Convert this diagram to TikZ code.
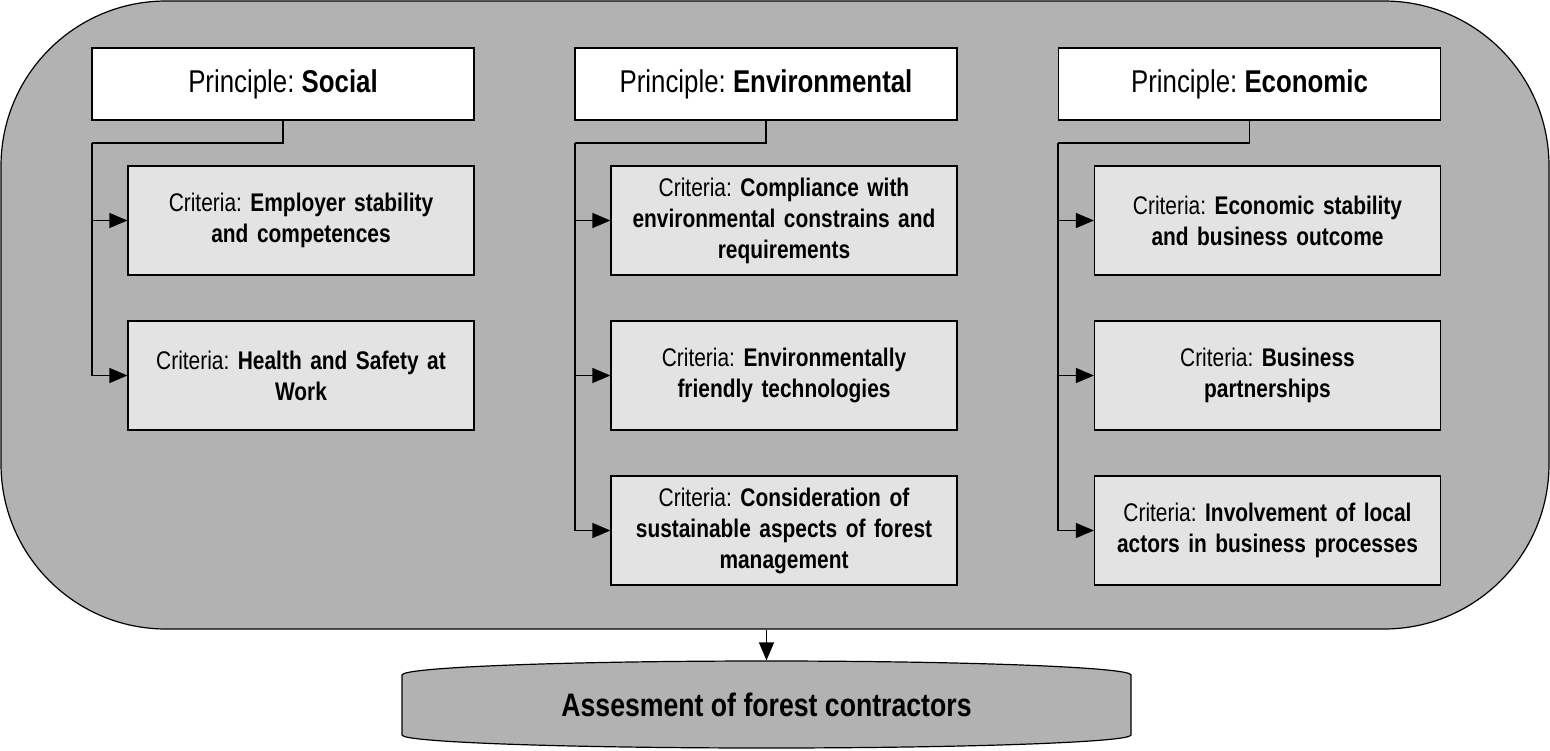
\documentclass[tikz,border=0pt]{standalone}
\usepackage{fontspec}
\setmainfont{Liberation Sans}[FakeStretch=0.82]
\usetikzlibrary{arrows.meta}
\definecolor{framegray}{RGB}{178,178,178}
\definecolor{critgray}{RGB}{227,227,227}
\begin{document}
\begin{tikzpicture}[x=1pt, y=-1pt, line width=1.2pt,
  prinbox/.style={draw, fill=white, minimum width=382pt, minimum height=72pt, inner sep=0pt, font=\fontsize{31.5}{36}\selectfont\frenchspacing},
  critbox/.style={draw, fill=critgray, minimum width=346pt, minimum height=109pt, inner sep=0pt, align=center, text width=330pt, font=\fontsize{25.5}{31}\selectfont\frenchspacing},
  link/.style={-{Triangle[length=18pt, width=15pt]}}]
\useasboundingbox (0,0) rectangle (1550,750);
\node[draw, fill=framegray, rounded corners=165pt, minimum width=1548pt, minimum height=628pt] (frame) at (775,315){};
% principles
\node[prinbox] (prin1) at (283,84){Principle: \textbf{Social}};
\node[prinbox] (prin2) at (766,84){Principle: \textbf{Environmental}};
\node[prinbox] (prin3) at (1249.5,84){Principle: \textbf{Economic}};
% criteria
\node[critbox] (crit11) at (301,220.5){Criteria: \textbf{Employer stability}\\\textbf{and competences}};
\node[critbox] (crit12) at (301,375.5){Criteria: \textbf{Health and Safety at}\\\textbf{Work}};
\node[critbox] (crit21) at (784,220.5){Criteria: \textbf{Compliance with}\\\textbf{environmental constrains and}\\\textbf{requirements}};
\node[critbox] (crit22) at (784,375.5){Criteria: \textbf{Environmentally}\\\textbf{friendly technologies}};
\node[critbox] (crit23) at (784,530.5){Criteria: \textbf{Consideration of}\\\textbf{sustainable aspects of forest}\\\textbf{management}};
\node[critbox] (crit31) at (1267.5,220.5){Criteria: \textbf{Economic stability}\\\textbf{and business outcome}};
\node[critbox] (crit32) at (1267.5,375.5){Criteria: \textbf{Business}\\\textbf{partnerships}};
\node[critbox] (crit33) at (1267.5,530.5){Criteria: \textbf{Involvement of local}\\\textbf{actors in business processes}};
\coordinate (bend1) at (92,143);
\coordinate (bend2) at (575,143);
\coordinate (bend3) at (1058,143);
\draw[](prin1.south) |- (bend1);
\draw[link](bend1) |- (crit11.west);
\draw[link](bend1) |- (crit12.west);
\draw[](prin2.south) |- (bend2);
\draw[link](bend2) |- (crit21.west);
\draw[link](bend2) |- (crit22.west);
\draw[link](bend2) |- (crit23.west);
\draw[](prin3.south) |- (bend3);
\draw[link](bend3) |- (crit31.west);
\draw[link](bend3) |- (crit32.west);
\draw[link](bend3) |- (crit33.west);
% result
\coordinate (drum) at (766.5,704.5);
\draw[fill=framegray] ([shift={(-364.5,-29.5)}]drum) arc[start angle=180, end angle=0, x radius=364.5pt, y radius=14pt] -- ([shift={(364.5,30.5)}]drum) arc[start angle=0, end angle=-180, x radius=364.5pt, y radius=13pt] -- cycle;
\node[minimum width=729pt, minimum height=87pt, inner sep=0pt, font=\fontsize{32.5}{38}\selectfont\bfseries] (assess) at (drum){Assesment of forest contractors};
\draw[link](assess.north |- frame.south) -- (assess.north);
\end{tikzpicture}
\end{document}
